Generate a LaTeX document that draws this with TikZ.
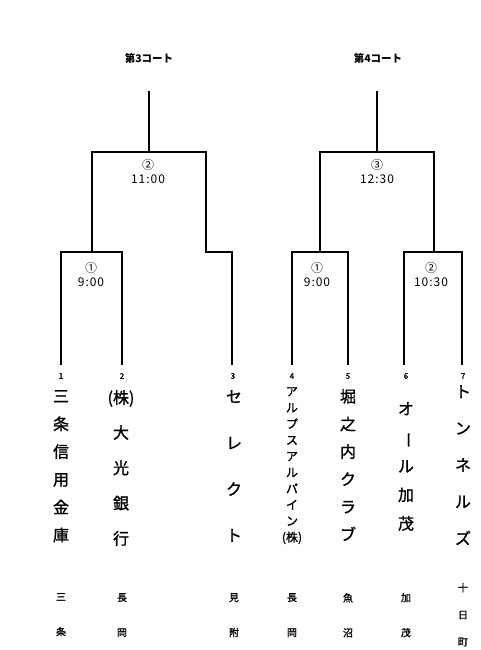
\documentclass[tikz,border=0pt]{standalone}
\usepackage{fontspec}
\setmainfont{Noto Sans CJK JP}
\newfontfamily\jpb[FakeBold=1.2]{Noto Sans CJK JP}
\newfontfamily\jpwide[LetterSpace=8]{Noto Sans CJK JP}
\begin{document}
\begin{tikzpicture}[x=1pt,y=-1pt,
  br/.style={line width=1.8pt,line cap=rect},
  title/.style={font=\fontsize{10.5}{12}\selectfont\bfseries,inner sep=0pt},
  matchlbl/.style={font=\fontsize{12}{14}\selectfont\jpwide,align=center,inner sep=0pt},
  num/.style={font=\fontsize{8}{9}\selectfont\jpb,inner sep=0pt},
  team/.style={inner sep=0pt,anchor=north,align=center,font=\fontsize{16}{#1}\selectfont\jpb},
  smallteam/.style={inner sep=0pt,anchor=north,align=center,font=\fontsize{12}{#1}\selectfont\jpb},
  place/.style={inner sep=0pt,anchor=north,align=center,font=\fontsize{10}{#1}\selectfont\jpb}]
\useasboundingbox (0,0) rectangle (480,650);
% titles
\node[title] (c3) at (149,58) {第3コート};
\node[title] (c4) at (378,58) {第4コート};
% coordinates
\coordinate (t3) at (149,92);
\coordinate (q3) at (149,152);
\coordinate (t4) at (377,92);
\coordinate (q4) at (377,152);
\coordinate (m1) at (92,252);
\coordinate (m2) at (206,252);
\coordinate (m4) at (320,252);
\coordinate (m5) at (434,252);
\coordinate (p1) at (61,364);
\coordinate (p2) at (122,364);
\coordinate (p3) at (232,364);
\coordinate (p4) at (292,364);
\coordinate (p5) at (348,364);
\coordinate (p6) at (404,364);
\coordinate (p7) at (462,364);
% court 3
\draw[br] (t3) -- (q3);
\draw[br] (m1) -- (m1 |- q3) -- (m2 |- q3) -- (m2) -- (p3 |- m2) -- (p3);
\draw[br] (p1) -- (p1 |- m1) -- (p2 |- m1) -- (p2);
% court 4
\draw[br] (t4) -- (q4);
\draw[br] (m4) -- (m4 |- q4) -- (m5 |- q4) -- (m5);
\draw[br] (p4) -- (p4 |- m4) -- (p5 |- m4) -- (p5);
\draw[br] (p6) -- (p6 |- m5) -- (p7 |- m5) -- (p7);
% match labels
\node[matchlbl] (g2) at (148,172) {②\\11:00};
\node[matchlbl] (g1) at (91,275) {①\\9:00};
\node[matchlbl] (h3) at (377,172) {③\\12:30};
\node[matchlbl] (h1) at (317,275) {①\\9:00};
\node[matchlbl] (h2) at (431,275) {②\\10:30};
% numbers
\node[num] (n1) at (61,376) {1};
\node[num] (n2) at (122,376) {2};
\node[num] (n3) at (233,376) {3};
\node[num] (n4) at (292,376) {4};
\node[num] (n5) at (348,376) {5};
\node[num] (n6) at (406,376) {6};
\node[num] (n7) at (463,376) {7};
% teams
\node[team=27.8] (a1) at (61,390) {三\\条\\信\\用\\金\\庫};
\node[team=20] (a2k) at (121,390) {(株)};
\node[team=35.3] (a2) at (121,425) {大\\光\\銀\\行};
\node[team=46.3] (a3) at (234,390) {セ\\レ\\ク\\ト};
\node[smallteam=16.2] (a4) at (292,387) {ア\\ル\\プ\\ス\\ア\\ル\\パ\\イ\\ン\\(株)};
\node[team=27.6] (a5) at (348,389) {堀\\之\\内\\ク\\ラ\\ブ};
\node[team=28.7] (a6) at (406,402) {オ\\\rotatebox[origin=c]{-90}{ー}\\ル\\加\\茂};
\node[team=36.7] (a7) at (463,385) {ト\\ン\\ネ\\ル\\ズ};
% places
\node[place=35] (b1) at (61,593) {三\\条};
\node[place=35] (b2) at (122,593) {長\\岡};
\node[place=35] (b3) at (234,593) {見\\附};
\node[place=35] (b4) at (292,593) {長\\岡};
\node[place=35] (b5) at (348,593) {魚\\沼};
\node[place=35] (b6) at (406,593) {加\\茂};
\node[place=27] (b7) at (463,583) {十\\日\\町};
\end{tikzpicture}
\end{document}
